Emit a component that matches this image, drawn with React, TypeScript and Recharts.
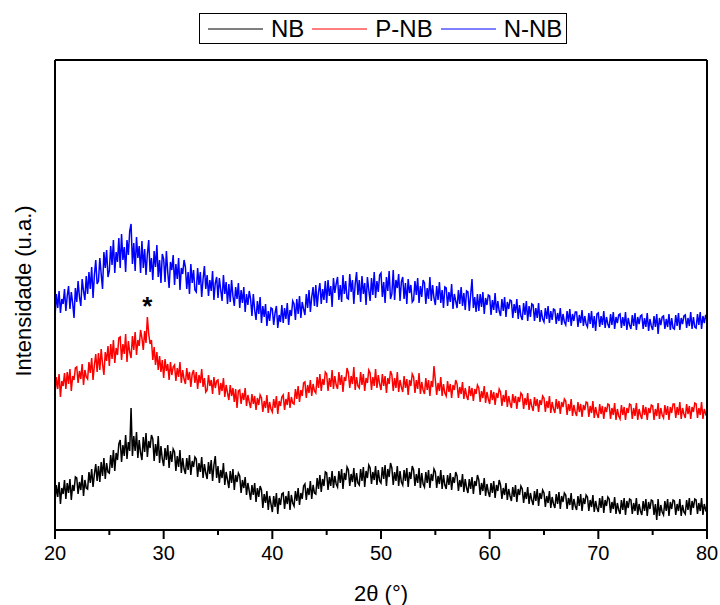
import React from 'react';
import { LineChart, Line, XAxis, YAxis, ReferenceDot, Customized } from 'recharts';

// 2θ grid: 20° to 80° sampled every 0.125°
const ANGLE_START = 20;
const ANGLE_STEP = 0.125;

// Intensity (arbitrary units, vertically offset as in the figure)
const nbValues = [
  28, 45, 33, 48, 26, 42, 36, 50,
  31, 47, 37, 51, 30, 45, 39, 53,
  52, 36, 48, 40, 55, 34, 50, 42,
  41, 58, 47, 61, 43, 56, 66, 49,
  64, 48, 68, 54, 72, 51, 67, 58,
  57, 75, 62, 80, 59, 77, 70, 86,
  90, 68, 85, 74, 95, 71, 88, 79,
  122, 74, 94, 79, 98, 72, 90, 77,
  70, 93, 78, 97, 73, 89, 82, 95,
  91, 69, 86, 74, 94, 67, 84, 71,
  64, 82, 70, 85, 62, 79, 68, 81,
  78, 59, 74, 63, 80, 57, 72, 61,
  56, 72, 60, 75, 55, 69, 63, 73,
  71, 53, 67, 58, 73, 52, 66, 57,
  51, 68, 56, 70, 49, 65, 74, 52,
  64, 47, 60, 52, 67, 45, 58, 50,
  42, 59, 47, 61, 40, 55, 48, 57,
  54, 37, 50, 42, 53, 35, 47, 39,
  30, 45, 35, 47, 28, 42, 33, 44,
  40, 22, 36, 27, 39, 20, 34, 26,
  18, 34, 23, 37, 16, 32, 25, 36,
  37, 21, 34, 26, 39, 20, 35, 27,
  24, 39, 29, 42, 25, 37, 31, 44,
  46, 30, 42, 35, 49, 31, 45, 37,
  36, 52, 41, 55, 38, 51, 44, 58,
  57, 40, 53, 44, 59, 42, 54, 46,
  43, 59, 47, 61, 41, 57, 50, 63,
  60, 44, 56, 48, 62, 43, 57, 47,
  45, 61, 49, 63, 43, 59, 52, 65,
  62, 46, 58, 50, 64, 45, 60, 49,
  47, 63, 51, 65, 44, 61, 53, 67,
  62, 45, 58, 49, 64, 44, 59, 48,
  45, 60, 49, 62, 43, 58, 51, 64,
  60, 44, 56, 47, 62, 42, 57, 46,
  43, 58, 47, 60, 42, 56, 49, 61,
  58, 42, 54, 46, 60, 41, 55, 45,
  41, 55, 45, 57, 40, 53, 47, 58,
  54, 39, 50, 43, 56, 38, 51, 42,
  37, 51, 41, 53, 36, 49, 44, 55,
  50, 35, 47, 39, 52, 34, 46, 38,
  33, 47, 37, 49, 32, 45, 39, 50,
  45, 31, 42, 35, 47, 30, 41, 34,
  29, 43, 33, 45, 28, 41, 35, 44,
  41, 27, 38, 31, 43, 26, 37, 30,
  25, 39, 29, 41, 24, 37, 31, 40,
  37, 23, 34, 27, 39, 22, 33, 26,
  22, 36, 26, 38, 21, 34, 28, 37,
  35, 21, 32, 25, 37, 20, 31, 24,
  20, 34, 24, 36, 19, 32, 26, 35,
  33, 19, 30, 23, 35, 18, 29, 22,
  18, 32, 22, 34, 17, 30, 24, 33,
  31, 17, 28, 21, 33, 16, 27, 20,
  16, 30, 20, 32, 15, 29, 22, 31,
  30, 16, 27, 19, 32, 15, 26, 19,
  15, 29, 19, 31, 14, 28, 21, 30,
  29, 15, 26, 10, 31, 14, 25, 18,
  15, 29, 19, 31, 14, 28, 21, 30,
  29, 15, 26, 19, 31, 14, 25, 18,
  16, 30, 20, 32, 15, 29, 22, 31,
  30, 16, 27, 19, 32, 15, 26, 20,
  23,
];

const pnbValues = [
  136, 153, 141, 156, 133, 149, 144, 157,
  141, 158, 146, 161, 139, 154, 150, 162,
  163, 147, 159, 151, 166, 145, 160, 153,
  151, 168, 157, 172, 150, 165, 176, 158,
  177, 160, 181, 166, 155, 178, 169, 184,
  164, 186, 171, 190, 167, 182, 175, 192,
  193, 170, 186, 176, 196, 168, 189, 178,
  172, 194, 180, 198, 175, 190, 184, 200,
  192, 180, 199, 187, 213, 196, 186, 190,
  170, 183, 165, 178, 160, 174, 158, 170,
  152, 171, 159, 166, 150, 168, 155, 163,
  165, 149, 162, 153, 168, 147, 160, 151,
  146, 162, 150, 158, 143, 156, 160, 147,
  158, 141, 155, 147, 161, 143, 152, 138,
  140, 155, 144, 150, 136, 153, 142, 149,
  150, 135, 147, 139, 152, 133, 145, 137,
  130, 145, 134, 142, 128, 141, 122, 139,
  140, 126, 137, 130, 142, 124, 135, 128,
  122, 136, 126, 134, 120, 132, 125, 135,
  132, 118, 129, 122, 135, 117, 128, 121,
  118, 131, 122, 134, 116, 129, 124, 133,
  135, 120, 131, 125, 138, 122, 133, 127,
  126, 141, 131, 144, 128, 140, 134, 147,
  148, 132, 145, 137, 150, 134, 146, 139,
  137, 153, 142, 156, 139, 151, 145, 158,
  156, 139, 152, 143, 160, 141, 154, 145,
  141, 158, 145, 155, 138, 153, 149, 162,
  157, 142, 154, 146, 163, 140, 153, 144,
  142, 158, 145, 156, 139, 152, 147, 160,
  157, 140, 153, 144, 161, 142, 155, 146,
  140, 156, 144, 154, 137, 152, 146, 159,
  155, 139, 152, 142, 158, 138, 150, 143,
  138, 154, 142, 151, 135, 150, 144, 156,
  153, 137, 150, 141, 157, 136, 148, 140,
  136, 152, 140, 150, 134, 149, 143, 164,
  150, 135, 147, 139, 153, 134, 146, 137,
  134, 149, 138, 146, 132, 145, 140, 150,
  146, 132, 143, 136, 148, 131, 142, 134,
  130, 144, 134, 142, 129, 141, 136, 145,
  142, 128, 139, 132, 144, 127, 138, 131,
  126, 140, 130, 138, 125, 137, 132, 141,
  138, 124, 135, 128, 140, 123, 134, 127,
  122, 136, 127, 134, 121, 133, 128, 137,
  135, 121, 132, 125, 137, 120, 131, 124,
  119, 133, 124, 131, 118, 130, 125, 134,
  132, 118, 129, 122, 134, 117, 128, 121,
  117, 131, 121, 129, 116, 128, 123, 131,
  129, 115, 126, 119, 131, 114, 125, 118,
  114, 128, 118, 126, 113, 125, 120, 128,
  127, 113, 124, 117, 129, 112, 123, 116,
  112, 126, 116, 124, 111, 123, 118, 126,
  125, 111, 122, 115, 127, 110, 121, 114,
  111, 125, 115, 123, 110, 122, 117, 126,
  125, 111, 122, 114, 127, 110, 121, 115,
  111, 125, 115, 123, 110, 122, 117, 125,
  124, 110, 121, 114, 127, 111, 122, 115,
  112, 125, 115, 124, 110, 123, 117, 126,
  126, 112, 123, 115, 128, 111, 122, 116,
  112, 126, 116, 124, 111, 123, 118, 127,
  126, 112, 122, 115, 128, 111, 121, 116,
  119,
];

const nnbValues = [
  213, 236, 222, 239, 217, 231, 226, 241,
  219, 234, 244, 221, 238, 227, 212, 242,
  228, 249, 233, 224, 251, 239, 230, 254,
  236, 258, 241, 263, 232, 255, 270, 246,
  249, 272, 256, 241, 278, 262, 280, 253,
  259, 284, 265, 290, 257, 278, 268, 292,
  262, 296, 270, 283, 258, 290, 275, 299,
  306, 266, 287, 259, 293, 272, 284, 257,
  289, 262, 281, 255, 276, 290, 258, 272,
  250, 279, 263, 285, 253, 270, 247, 276,
  271, 248, 279, 258, 242, 268, 260, 275,
  245, 266, 251, 272, 240, 262, 256, 270,
  263, 241, 258, 236, 266, 247, 260, 240,
  238, 262, 245, 258, 233, 251, 264, 241,
  255, 234, 250, 239, 259, 230, 247, 253,
  232, 252, 240, 229, 255, 236, 248, 226,
  246, 228, 250, 234, 224, 243, 231, 247,
  222, 240, 227, 243, 218, 236, 225, 239,
  231, 214, 236, 220, 210, 229, 216, 233,
  207, 224, 213, 226, 204, 219, 209, 222,
  221, 205, 217, 224, 202, 215, 208, 225,
  207, 222, 211, 227, 205, 220, 214, 229,
  226, 210, 231, 216, 234, 212, 228, 221,
  215, 236, 222, 240, 218, 233, 243, 224,
  245, 223, 238, 247, 226, 241, 230, 249,
  227, 250, 234, 244, 223, 252, 237, 246,
  253, 230, 245, 228, 255, 236, 249, 232,
  231, 256, 238, 250, 226, 246, 258, 235,
  250, 228, 254, 236, 247, 225, 253, 240,
  229, 252, 235, 258, 232, 249, 238, 255,
  257, 233, 248, 227, 253, 239, 259, 231,
  236, 260, 230, 250, 242, 256, 229, 248,
  253, 231, 247, 226, 251, 237, 245, 228,
  230, 249, 235, 252, 227, 244, 233, 250,
  247, 226, 242, 231, 253, 229, 245, 232,
  225, 244, 230, 248, 227, 240, 222, 243,
  242, 224, 238, 228, 246, 221, 236, 229,
  222, 240, 226, 243, 224, 237, 220, 239,
  238, 219, 235, 251, 222, 233, 218, 236,
  219, 236, 223, 238, 216, 232, 225, 235,
  234, 215, 230, 220, 237, 217, 229, 219,
  214, 231, 219, 233, 213, 228, 221, 230,
  229, 212, 226, 217, 231, 211, 225, 214,
  210, 227, 215, 229, 209, 224, 213, 226,
  225, 209, 222, 212, 227, 208, 220, 211,
  208, 222, 211, 224, 207, 219, 210, 221,
  220, 206, 217, 209, 222, 205, 216, 208,
  205, 219, 208, 221, 204, 216, 209, 218,
  218, 203, 215, 207, 220, 204, 214, 206,
  203, 217, 206, 219, 202, 214, 199, 216,
  217, 203, 214, 205, 219, 202, 213, 206,
  202, 216, 205, 218, 201, 213, 207, 215,
  216, 202, 213, 204, 218, 200, 212, 205,
  201, 215, 204, 217, 200, 213, 206, 214,
  215, 201, 212, 203, 217, 199, 211, 204,
  200, 214, 203, 216, 196, 212, 205, 213,
  214, 201, 211, 203, 216, 200, 212, 202,
  201, 215, 204, 217, 200, 212, 206, 214,
  215, 202, 212, 204, 218, 201, 213, 203,
  202, 216, 205, 218, 201, 214, 207, 215,
  210,
];

const xTicks = [20, 25, 30, 35, 40, 45, 50, 55, 60, 65, 70, 75, 80];
const seriesNames = ['NB', 'P-NB', 'N-NB'];
const seriesColors = ['#000000', '#ff0000', '#0000ff'];
const seriesValues = [nbValues, pnbValues, nnbValues];

const data = nbValues.map((_, i) => {
  const row: Record<string, number> = { angle: ANGLE_START + i * ANGLE_STEP };
  seriesNames.forEach((n, k) => {
    row[n] = seriesValues[k][i];
  });
  return row;
});

const FONT = '"Liberation Sans", Arial, Helvetica, sans-serif';

const XTick = (props: any) => {
  const { x, y, payload } = props;
  const major = payload.value % 10 === 0;
  return (
    <g>
      <line x1={x} x2={x} y1={y} y2={y + (major ? 9 : 5)} stroke="#000" strokeWidth={2} />
      {major && (
        <text x={x} y={y + 30} textAnchor="middle" fontSize={20} fontFamily={FONT} fill="#000">
          {payload.value}
        </text>
      )}
    </g>
  );
};

const ChartLegend = () => (
  <div
    style={{
      position: 'absolute',
      left: 199,
      top: 13,
      display: 'flex',
      alignItems: 'center',
      border: '1.5px solid #000',
      height: 31,
      boxSizing: 'border-box',
      padding: '0 4px 0 8px',
      fontFamily: FONT,
      fontSize: 24,
      lineHeight: '28px',
      background: '#fff',
    }}
  >
    {seriesNames.map((n, i) => (
      <div key={n} style={{ display: 'flex', alignItems: 'center', marginRight: i < 2 ? 8 : 0 }}>
        <svg width={55} height={10} style={{ marginRight: 8 }}>
          <line x1={0} x2={55} y1={5} y2={5} stroke={seriesColors[i]} strokeWidth={1} />
        </svg>
        <span style={{ color: '#000' }}>{n}</span>
      </div>
    ))}
  </div>
);

const YLabel = () => (
  <text
    x={23}
    y={291}
    transform="rotate(-90, 23, 291)"
    textAnchor="middle"
    dominantBaseline="central"
    fontSize={22}
    fontFamily={FONT}
    fill="#000"
  >
    Intensidade (u.a.)
  </text>
);

export default function App() {
  return (
    <div style={{ position: 'absolute', left: 0, top: 0, width: 720, height: 605, background: '#fff' }}>
      <LineChart width={720} height={605} data={data} margin={{ top: 59, right: 12, bottom: 0, left: 54 }}>
        <XAxis
          dataKey="angle"
          type="number"
          domain={[20, 80]}
          ticks={xTicks}
          interval={0}
          tickSize={0}
          tickMargin={0}
          tickLine={false}
          tick={<XTick />}
          axisLine={{ stroke: '#000', strokeWidth: 2 }}
          height={75}
          label={{ value: '2θ (°)', position: 'insideBottom', offset: 4, fontSize: 22, fontFamily: FONT, fill: '#000' }}
        />
        <XAxis
          xAxisId="top"
          orientation="top"
          dataKey="angle"
          type="number"
          domain={[20, 80]}
          tick={false}
          tickLine={false}
          axisLine={{ stroke: '#000', strokeWidth: 2 }}
          height={1}
        />
        <YAxis
          type="number"
          domain={[0, 470]}
          tick={false}
          tickLine={false}
          axisLine={{ stroke: '#000', strokeWidth: 2 }}
          width={1}
        />
        <YAxis
          yAxisId="right"
          orientation="right"
          type="number"
          domain={[0, 470]}
          tick={false}
          tickLine={false}
          axisLine={{ stroke: '#000', strokeWidth: 2 }}
          width={1}
        />
        {seriesNames.map((n, i) => (
          <Line
            key={n}
            dataKey={n}
            name={n}
            stroke={seriesColors[i]}
            strokeWidth={1.5}
            dot={false}
            isAnimationActive={false}
            type="linear"
          />
        ))}
        <ReferenceDot
          x={28.5}
          y={224}
          r={0}
          fill="none"
          stroke="none"
          label={{ value: '*', position: 'center', fontSize: 26, fontWeight: 'bold', fontFamily: FONT, fill: '#000' }}
        />
        <Customized component={YLabel} />
      </LineChart>
      <ChartLegend />
    </div>
  );
}
